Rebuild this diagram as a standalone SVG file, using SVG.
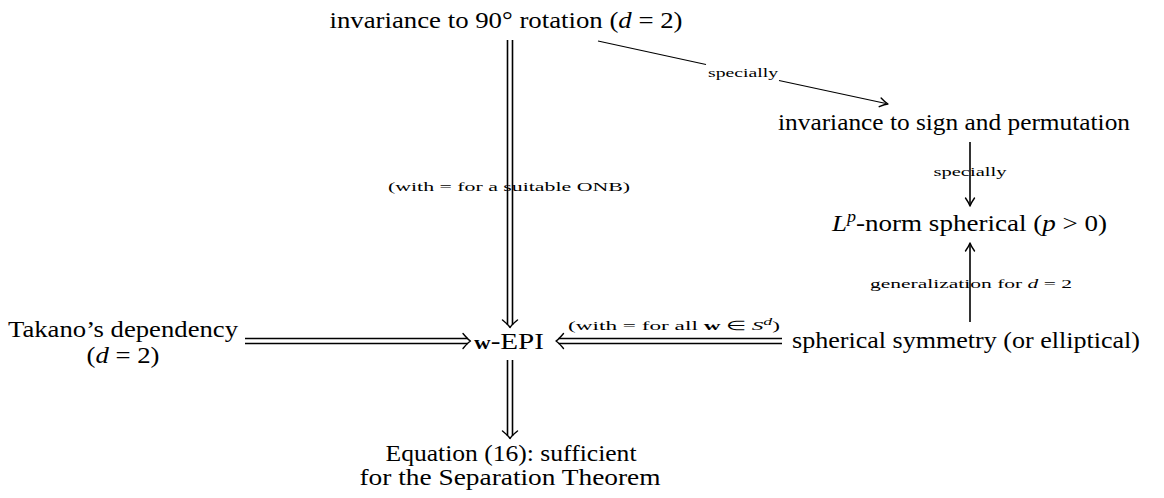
<svg xmlns="http://www.w3.org/2000/svg" width="1164" height="498" viewBox="0 0 1164 498">
<style>
.t{font-family:"Liberation Serif","Times New Roman",serif;font-size:24px;fill:#000}
.s{font-family:"Liberation Serif","Times New Roman",serif;font-size:13px;fill:#000}
.i{font-style:italic}
.b{font-weight:bold}
.ln{stroke:#000;stroke-width:1.6;fill:none}
.thin{stroke:#000;stroke-width:1.2;fill:none}
.hd{stroke:#000;stroke-width:1.4;fill:none;stroke-linecap:round;stroke-linejoin:round}
</style>
<defs>
<path id="dh" d="M-7.5,-7.5 Q-3,-2 0,0 Q-3,2 -7.5,7.5" class="hd"/>
<path id="sh" d="M-8,-4.5 Q-3,-1 0,0 Q-3,1 -8,4.5" class="hd"/>
</defs>
<rect width="1164" height="498" fill="#fff"/>

<g id="connectors">
  <!-- rot90 -> wEPI -->
  <line class="ln" x1="507.5" y1="40" x2="507.5" y2="325"/>
  <line class="ln" x1="512.5" y1="40" x2="512.5" y2="325"/>
  <use href="#dh" transform="translate(510,327.5) rotate(90)"/>
  <text class="s" x="509" y="191" text-anchor="middle" textLength="242" lengthAdjust="spacingAndGlyphs">(with = for a suitable ONB)</text>
  <!-- wEPI -> Equation -->
  <line class="ln" x1="507.5" y1="360" x2="507.5" y2="436"/>
  <line class="ln" x1="512.5" y1="360" x2="512.5" y2="436"/>
  <use href="#dh" transform="translate(510,438.5) rotate(90)"/>
  <!-- Takano -> wEPI -->
  <line class="ln" x1="245" y1="338.5" x2="468" y2="338.5"/>
  <line class="ln" x1="245" y1="343.5" x2="468" y2="343.5"/>
  <use href="#dh" transform="translate(470.5,341)"/>
  <!-- spherical -> wEPI -->
  <line class="ln" x1="782" y1="338.5" x2="558.5" y2="338.5"/>
  <line class="ln" x1="782" y1="343.5" x2="558.5" y2="343.5"/>
  <use href="#dh" transform="translate(556,341) rotate(180)"/>
  <text class="s" x="674" y="330" text-anchor="middle" textLength="212" lengthAdjust="spacingAndGlyphs">(with = for all <tspan class="b">w</tspan> ∈ <tspan class="i">S</tspan><tspan class="i" font-size="10" dy="-5">d</tspan><tspan dy="5">)</tspan></text>
  <!-- rot90 -> sign/perm -->
  <line class="thin" x1="598" y1="41" x2="706" y2="64.5"/>
  <line class="thin" x1="779" y1="80.5" x2="886" y2="103.5"/>
  <use href="#sh" transform="translate(888,104) rotate(12.2)"/>
  <text class="s" x="743" y="77" text-anchor="middle" textLength="70" lengthAdjust="spacingAndGlyphs">specially</text>
  <!-- sign/perm -> Lp -->
  <line class="ln" x1="970" y1="142" x2="970" y2="204"/>
  <use href="#sh" transform="translate(970,206) rotate(90)"/>
  <text class="s" x="970" y="176" text-anchor="middle" textLength="73" lengthAdjust="spacingAndGlyphs">specially</text>
  <!-- spherical -> Lp -->
  <line class="ln" x1="970" y1="322" x2="970" y2="245"/>
  <use href="#sh" transform="translate(970,243) rotate(-90)"/>
  <text class="s" x="971" y="288" text-anchor="middle" textLength="202" lengthAdjust="spacingAndGlyphs">generalization for <tspan class="i">d</tspan> = 2</text>
</g>

<g id="rot90">
  <text class="t" x="506" y="28" text-anchor="middle" textLength="353" lengthAdjust="spacingAndGlyphs">invariance to 90° rotation (<tspan class="i">d</tspan> = 2)</text>
</g>
<g id="signperm">
  <text class="t" x="954" y="130" text-anchor="middle" textLength="352" lengthAdjust="spacingAndGlyphs">invariance to sign and permutation</text>
</g>
<g id="lpnorm">
  <text class="t" x="969.5" y="231" text-anchor="middle" textLength="275" lengthAdjust="spacingAndGlyphs"><tspan class="i">L</tspan><tspan class="i" font-size="16" dy="-9">p</tspan><tspan dy="9">-norm spherical (</tspan><tspan class="i">p</tspan> &gt; 0)</text>
</g>
<g id="spherical">
  <text class="t" x="966" y="348" text-anchor="middle" textLength="348" lengthAdjust="spacingAndGlyphs">spherical symmetry (or elliptical)</text>
</g>
<g id="takano">
  <text class="t" x="123" y="337" text-anchor="middle" textLength="230" lengthAdjust="spacingAndGlyphs">Takano’s dependency</text>
  <text class="t" x="123" y="363" text-anchor="middle" textLength="73" lengthAdjust="spacingAndGlyphs">(<tspan class="i">d</tspan> = 2)</text>
</g>
<g id="wepi">
  <text class="t" x="509" y="349" text-anchor="middle" textLength="70" lengthAdjust="spacingAndGlyphs"><tspan class="b" font-size="19">w</tspan>-EPI</text>
</g>
<g id="equation">
  <text class="t" x="511" y="461" text-anchor="middle" textLength="251" lengthAdjust="spacingAndGlyphs">Equation (16): sufficient</text>
  <text class="t" x="510" y="485" text-anchor="middle" textLength="301" lengthAdjust="spacingAndGlyphs">for the Separation Theorem</text>
</g>
</svg>
